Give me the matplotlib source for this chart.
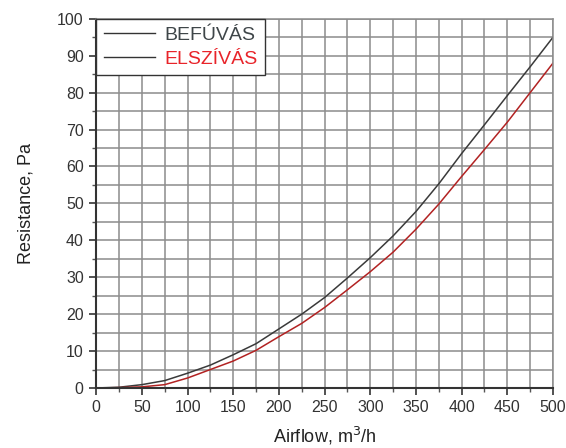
import matplotlib
matplotlib.use("Agg")
from matplotlib import pyplot as plt
from matplotlib.ticker import MultipleLocator

plt.rcParams['font.family'] = ['Liberation Sans', 'DejaVu Sans']

# airflow values, m3/h
airflow = [0, 25, 50, 75, 100, 125, 150, 175, 200, 225, 250, 275, 300,
           325, 350, 375, 400, 425, 450, 475, 500]
# resistance, Pa
befuvas = [0, 0.2, 0.9, 2.0, 4.0, 6.2, 9.0, 12.0, 16.0, 20.0, 24.5, 29.8, 35.3,
           41.2, 47.8, 55.3, 63.5, 71.3, 79.2, 87.0, 95.0]
elszivas = [0, 0.1, 0.3, 0.9, 2.7, 5.0, 7.3, 10.2, 13.9, 17.5, 21.8, 26.6, 31.5,
            36.8, 43.0, 49.8, 57.3, 64.6, 72.0, 80.0, 88.0]
labels = ["BEFÚVÁS", "ELSZÍVÁS"]

fig = plt.figure(figsize=(5.66, 4.48), dpi=100)
ax = fig.add_axes([0.170, 0.134, 0.807, 0.824])

ax.plot(airflow, befuvas, color="#3a3a3a", lw=1.1, label=labels[0])
ax.plot(airflow, elszivas, color="#b22222", lw=1.1, label=labels[1])

ax.set_xlim(0, 500)
ax.set_ylim(0, 100)
ax.xaxis.set_major_locator(MultipleLocator(50))
ax.xaxis.set_minor_locator(MultipleLocator(25))
ax.yaxis.set_major_locator(MultipleLocator(10))
ax.yaxis.set_minor_locator(MultipleLocator(5))
ax.grid(True, which="both", color="#8c8c8c", lw=1.1)
ax.set_axisbelow(True)
ax.tick_params(which="major", direction="out", length=5, width=1.2,
               labelsize=11.5, colors="#333333", pad=4)
ax.tick_params(which="minor", direction="out", length=3, width=1.0, colors="#555555")
for side in ["left", "bottom"]:
    ax.spines[side].set_color("#333333")
    ax.spines[side].set_linewidth(1.5)
for side in ["top", "right"]:
    ax.spines[side].set_color("#8c8c8c")
    ax.spines[side].set_linewidth(1.1)

ax.set_xlabel("Airflow, m$^3$/h", fontsize=13, color="#222222", labelpad=7)
ax.set_ylabel("Resistance, Pa", fontsize=13, color="#222222", labelpad=16)

leg = ax.legend(loc="upper left", bbox_to_anchor=(0.0, 1.0), fontsize=14,
                frameon=True, fancybox=False, borderaxespad=0.0,
                handlelength=2.6, handletextpad=0.5, borderpad=0.4,
                labelspacing=0.3, edgecolor="#333333", facecolor="white",
                framealpha=1.0)
leg.get_frame().set_linewidth(1.0)
for h in leg.get_lines():
    h.set_color("#333333")
    h.set_linewidth(1.0)
leg.get_texts()[0].set_color("#3f4649")
leg.get_texts()[1].set_color("#e8242a")

plt.savefig("out.png", dpi=100)
